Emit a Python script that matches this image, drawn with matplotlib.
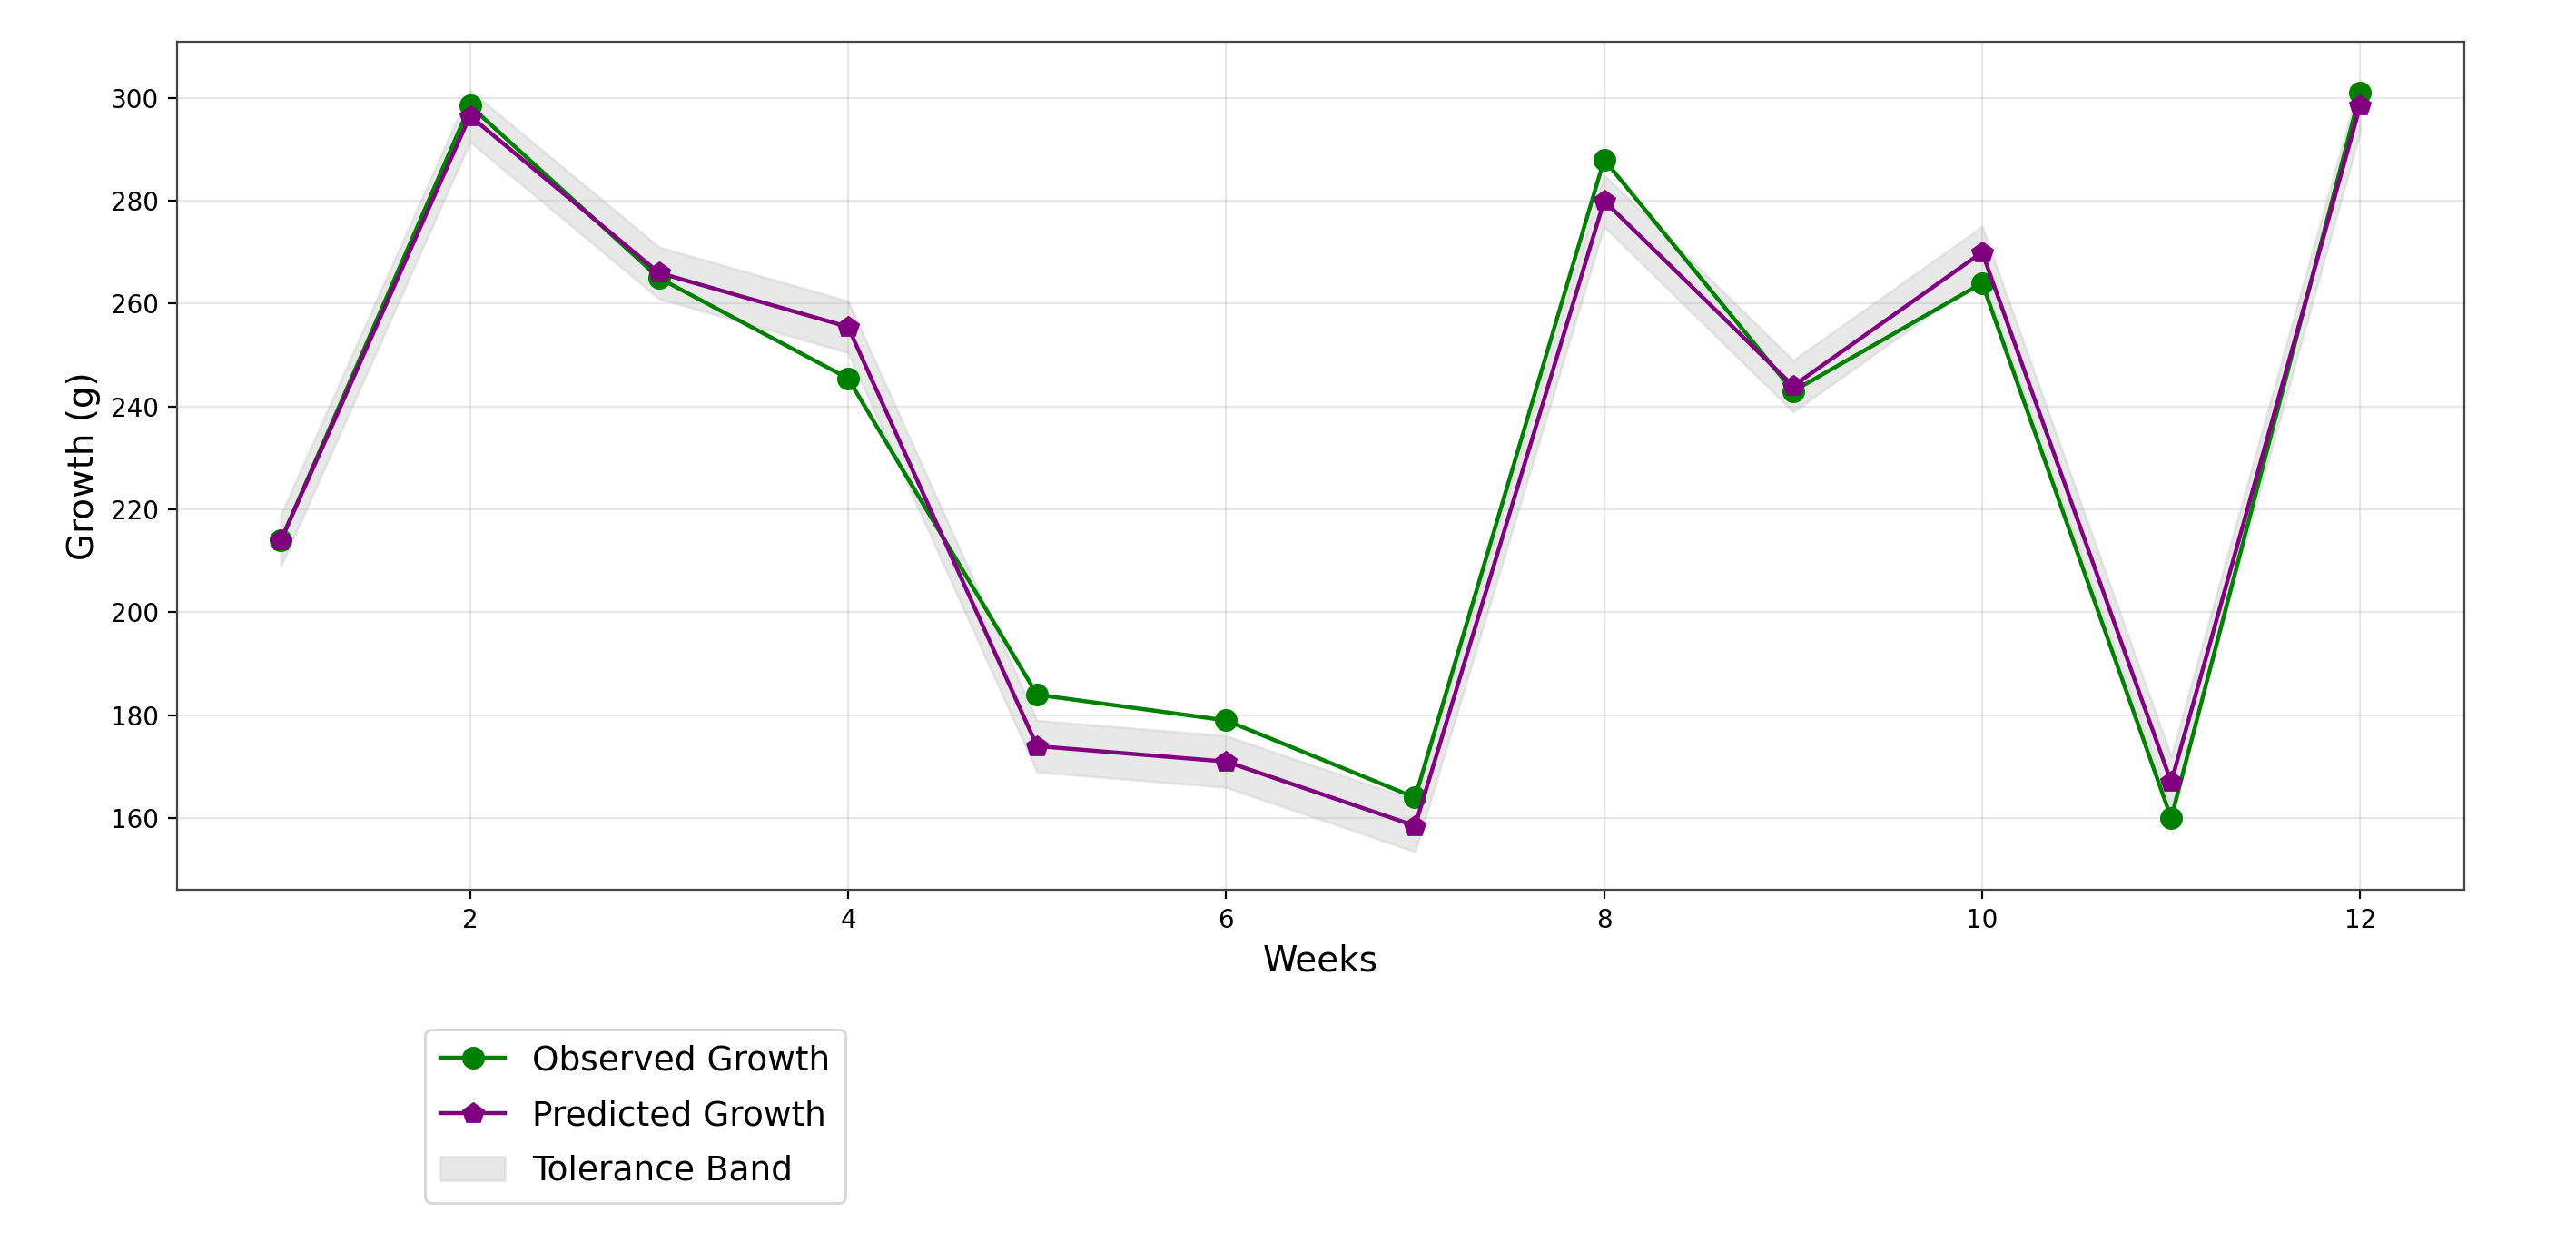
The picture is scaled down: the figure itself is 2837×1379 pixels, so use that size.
import matplotlib
matplotlib.use('Agg')
import matplotlib.pyplot as plt

weeks = [1, 2, 3, 4, 5, 6, 7, 8, 9, 10, 11, 12]
observed_growth = [214, 298.5, 265, 245.5, 184, 179, 164, 288, 243, 264, 160, 301]
predicted_growth = [214, 296.5, 266, 255.5, 174, 171, 158.5, 280, 244, 270, 167, 298.5]
band_lower = [209, 291.5, 261, 250.5, 169, 166, 153.5, 275, 239, 265, 162, 293.5]
band_upper = [219, 301.5, 271, 260.5, 179, 176, 163.5, 285, 249, 275, 172, 303.5]

fig = plt.figure(figsize=(14.185, 6.895), dpi=200)
ax = fig.add_axes([0.0687, 0.289, 0.8879, 0.678])

ax.fill_between(weeks, band_lower, band_upper, color='lightgray', alpha=0.5,
                label='Tolerance Band')
ax.plot(weeks, observed_growth, color='green', marker='o', markersize=8,
        linewidth=1.6, label='Observed Growth')
ax.plot(weeks, predicted_growth, color='purple', marker='p', markersize=8,
        linewidth=1.6, label='Predicted Growth')

ax.set_xlabel('Weeks', fontsize=14)
ax.set_ylabel('Growth (g)', fontsize=14)
ax.grid(True, alpha=0.3)
for s in ax.spines.values():
    s.set_color('#444444')

handles, labels = ax.get_legend_handles_labels()
order = [1, 2, 0]
fig.legend([handles[i] for i in order], [labels[i] for i in order],
           loc='upper left', bbox_to_anchor=(0.165, 0.178), fontsize=13.5,
           handlelength=1.9, handletextpad=0.8, labelspacing=0.66,
           borderpad=0.45, borderaxespad=0)

fig.savefig('out.png', dpi=200)
